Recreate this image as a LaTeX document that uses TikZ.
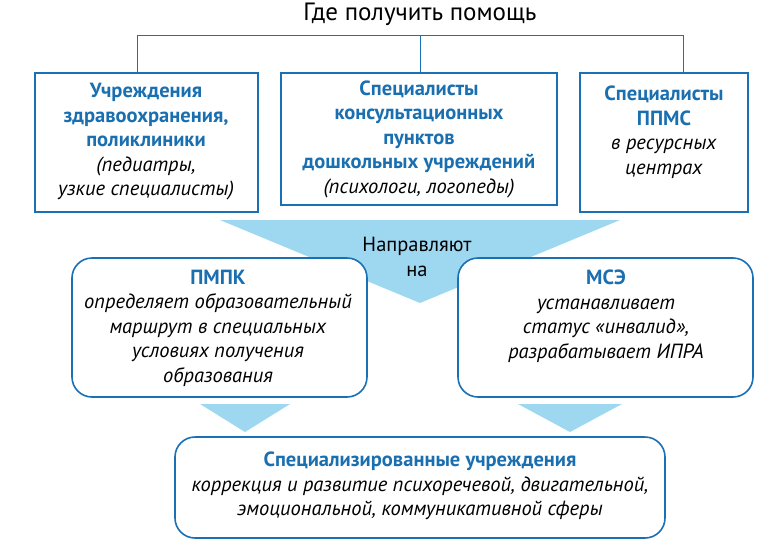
\documentclass[tikz,border=0pt]{standalone}
\usepackage{fontspec}
\setmainfont{PT Sans}
\begin{document}
\definecolor{bord}{HTML}{1B6FB3}
\definecolor{head}{HTML}{1A6FB0}
\definecolor{tri}{HTML}{9DD7F0}
\newcommand{\hdl}[1]{\textbf{\textcolor{head}{#1}}}
\newcommand{\itl}[1]{\textit{#1}}
\begin{tikzpicture}[x=1pt,y=-1pt,
  box/.style={draw=bord,line width=1.6pt,fill=white},
  rbox/.style={box,rounded corners=20pt},
  txt/.style={align=center,font=\fontsize{20.5}{24.5}\selectfont,inner sep=0pt},
  conn/.style={draw=bord,line width=1pt}]
\useasboundingbox (0,0) rectangle (776,541);
\node[font=\fontsize{25}{28}\selectfont,inner sep=0pt] (title) at (420,14) {Где получить помощь};
\coordinate (hl) at (137,35); \coordinate (hr) at (683,35); \coordinate (hm) at (420,35);
\coordinate (b1t) at (137,73); \coordinate (b2t) at (420,73); \coordinate (b3t) at (683,73);
\draw[conn] (b1t) -- (hl) -- (hr) -- (b3t);
\draw[conn] (hm) -- (b2t);
\fill[tri] (220,220) -- (620,220) -- (420,303) -- cycle;
\draw[box] (35,73) rectangle (258,212);
\draw[box] (281,73) rectangle (557,205);
\draw[box] (580,73) rectangle (748,212);
\node[txt] (t1) at (146,142) {\hdl{Учреждения}\\\hdl{здравоохранения,}\\\hdl{поликлиники}\\\itl{(педиатры,}\\\itl{узкие специалисты)}};
\node[txt] (t2) at (419,139) {\hdl{Специалисты}\\\hdl{консультационных}\\\hdl{пунктов}\\\hdl{дошкольных учреждений}\\\itl{(психологи, логопеды)}};
\node[txt] (t3) at (664,132) {\hdl{Специалисты}\\\hdl{ППМС}\\\itl{в ресурсных}\\\itl{центрах}};
\node[txt] (nap) at (417,257) {Направляют\\на};
\draw[rbox] (72,258) rectangle (367,397);
\draw[rbox] (458,258) rectangle (753,397);
\node[txt] (pmpk) at (218,328) {\hdl{ПМПК}\\\itl{определяет образовательный}\\\itl{маршрут в специальных}\\\itl{условиях получения}\\\itl{образования}};
\node[txt] (mse) at (606,316) {\hdl{МСЭ}\\\itl{устанавливает}\\\itl{статус «инвалид»,}\\\itl{разрабатывает ИПРА}};
\fill[tri] (200,404) -- (290,404) -- (245,432) -- cycle;
\fill[tri] (518,404) -- (622,404) -- (570,432) -- cycle;
\draw[rbox] (175,437) rectangle (665,538);
\node[txt] (spec) at (420,486) {\hdl{Специализированные учреждения}\\\itl{коррекция и развитие психоречевой, двигательной,}\\\itl{эмоциональной, коммуникативной сферы}};
\end{tikzpicture}
\end{document}
